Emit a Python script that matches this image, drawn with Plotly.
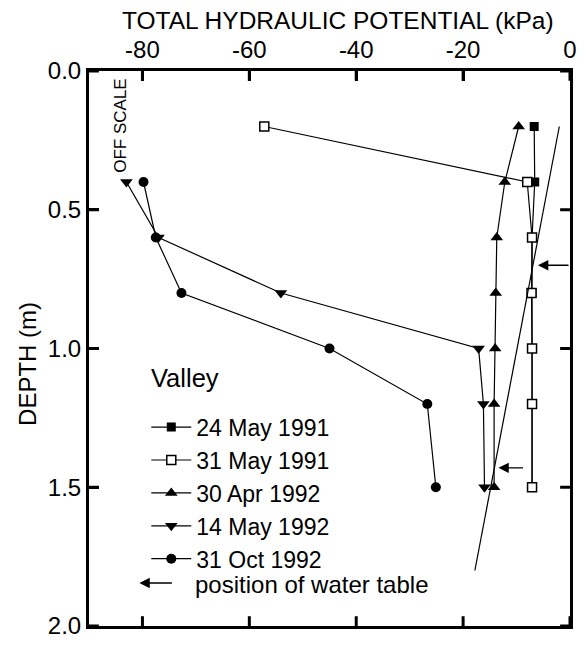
import plotly.graph_objects as go

# ---------------- data ----------------
depth = [0.2, 0.4, 0.6, 0.8, 1.0, 1.2, 1.5]
depth_lower = [0.4, 0.6, 0.8, 1.0, 1.2, 1.5]

may24_1991 = [-6.7, -6.6, -7.1, -7.1, -7.1, -7.1, -7.1]
may31_1991 = [-57.2, -8.0, -7.1, -7.2, -7.1, -7.1, -7.1]
apr30_1992 = [-9.6, -12.2, -13.7, -13.9, -14.0, -14.2, -14.2]
may14_1992 = [-83.0, -77.0, -54.1, -17.1, -16.2, -16.0]
oct31_1992 = [-79.8, -77.5, -72.7, -45.0, -26.7, -25.1]

series_names = ["24 May 1991", "31 May 1991", "30 Apr 1992", "14 May 1992", "31 Oct 1992"]

# water-table reference line (potential vs depth)
wt_line_x = [-2.0, -17.8]
wt_line_y = [0.2, 1.8]

# water-table arrows (depth, tail potential, tip potential)
wt_arrow_depth = [0.70, 1.43]
wt_arrow_tail = [0.0, -8.5]
wt_arrow_tip = [-6.0, -13.4]

x_ticks = [-80, -60, -40, -20, 0]
y_ticks = [0.0, 0.5, 1.0, 1.5, 2.0]

# ---------------- layout geometry ----------------
# the page body adds an 8px margin on every side; size the figure so the page
# fits the 586x648 window exactly
OFF = 8
W, H = 586 - 2 * OFF, 648 - 2 * OFF
# plot area in window pixels
SL, SR, ST, SB = 89, 576, 71, 639
L, R, T, B = SL - OFF, SR - OFF, ST - OFF, SB - OFF
PW, PH = SR - SL, SB - ST
TICKLEN = 10
FONT = "Liberation Sans, Arial, Helvetica, sans-serif"


def px(x_screen):
    return (x_screen - SL) / PW


def py(y_screen):
    return (SB - y_screen) / PH


fig = go.Figure()

line_style = dict(color="black", width=1.2)

fig.add_trace(go.Scatter(
    x=may24_1991, y=depth, name=series_names[0], mode="lines+markers",
    line=line_style,
    marker=dict(symbol="square", size=9, color="black"),
))
fig.add_trace(go.Scatter(
    x=may31_1991, y=depth, name=series_names[1], mode="lines+markers",
    line=line_style,
    marker=dict(symbol="square", size=9, color="white", line=dict(color="black", width=1.5)),
))
fig.add_trace(go.Scatter(
    x=apr30_1992, y=depth, name=series_names[2], mode="lines+markers",
    line=line_style,
    marker=dict(symbol="triangle-up", size=11, color="black"),
))
fig.add_trace(go.Scatter(
    x=may14_1992, y=depth_lower, name=series_names[3], mode="lines+markers",
    line=line_style,
    marker=dict(symbol="triangle-down", size=11, color="black"),
))
fig.add_trace(go.Scatter(
    x=oct31_1992, y=depth_lower, name=series_names[4], mode="lines+markers",
    line=line_style,
    marker=dict(symbol="circle", size=10, color="black"),
))
fig.add_trace(go.Scatter(
    x=wt_line_x, y=wt_line_y, mode="lines", showlegend=False,
    line=dict(color="black", width=1.2), hoverinfo="skip",
))

annotations = []
for d, tail, tip in zip(wt_arrow_depth, wt_arrow_tail, wt_arrow_tip):
    annotations.append(dict(
        x=tip, y=d, ax=tail, ay=d, xref="x", yref="y", axref="x", ayref="y",
        text="", showarrow=True, arrowhead=2, arrowsize=1.6, arrowwidth=1.3,
        arrowcolor="black",
    ))

# axis titles / labels
annotations.append(dict(
    x=px(341.5), y=py(19.5), xref="paper", yref="paper", showarrow=False,
    text="TOTAL HYDRAULIC POTENTIAL (kPa)", font=dict(family=FONT, size=24.5, color="black"),
    xanchor="center", yanchor="middle", borderpad=0,
))
annotations.append(dict(
    x=px(26), y=py(371), xref="paper", yref="paper", showarrow=False,
    text="DEPTH (m)", textangle=-90, font=dict(family=FONT, size=24, color="black"),
    xanchor="center", yanchor="middle",
))
annotations.append(dict(
    x=px(121), y=py(127.5), xref="paper", yref="paper", showarrow=False,
    text="OFF SCALE", textangle=-90, font=dict(family=FONT, size=17, color="black"),
    xanchor="center", yanchor="middle",
))
annotations.append(dict(
    x=px(150), y=py(385), xref="paper", yref="paper", showarrow=False,
    text="Valley", font=dict(family=FONT, size=25.5, color="black"),
    xanchor="left", yanchor="middle",
))
# legend entry for water-table arrow
annotations.append(dict(
    x=px(140), y=py(595), ax=34, ay=0, xref="paper", yref="paper",
    axref="pixel", ayref="pixel", text="", showarrow=True, arrowhead=2,
    arrowsize=1.6, arrowwidth=1.3, arrowcolor="black",
))
annotations.append(dict(
    x=px(194), y=py(597), xref="paper", yref="paper", showarrow=False,
    text="position of water table", font=dict(family=FONT, size=24, color="black"),
    xanchor="left", yanchor="middle",
))

# inward tick marks on all four sides, placed through the axes' own scales
shapes = []
tick_line = dict(color="black", width=3)
for v in x_ticks:
    shapes.append(dict(type="line", xref="x", yref="y domain", x0=v, x1=v,
                       y0=1, y1=1 - TICKLEN / PH, line=tick_line, layer="above"))
    shapes.append(dict(type="line", xref="x", yref="y domain", x0=v, x1=v,
                       y0=0, y1=TICKLEN / PH, line=tick_line, layer="above"))
for v in y_ticks:
    shapes.append(dict(type="line", xref="x domain", yref="y", x0=0, x1=TICKLEN / PW,
                       y0=v, y1=v, line=tick_line, layer="above"))
    shapes.append(dict(type="line", xref="x domain", yref="y", x0=1, x1=1 - TICKLEN / PW,
                       y0=v, y1=v, line=tick_line, layer="above"))

axis_common = dict(
    showline=True, linecolor="black", linewidth=3, mirror=True,
    ticks="inside", ticklen=TICKLEN, tickwidth=3, tickcolor="black",
    showgrid=False, zeroline=False, ticklabeloverflow="allow",
    tickfont=dict(family=FONT, size=24, color="black"),
)

fig.update_layout(
    width=W, height=H,
    margin=dict(l=L, r=W - R, t=T, b=H - B, pad=0),
    paper_bgcolor="white", plot_bgcolor="white",
    font=dict(family=FONT, color="black"),
    xaxis=dict(range=[-90, 0], side="top", tickvals=x_ticks,
               ticktext=[str(v) for v in x_ticks], **axis_common),
    yaxis=dict(range=[2, 0], tickvals=y_ticks,
               ticktext=[f"{v:.1f}" for v in y_ticks], **axis_common),
    showlegend=True,
    legend=dict(
        x=px(147), y=py(413.5), xanchor="left", yanchor="top",
        bgcolor="rgba(0,0,0,0)", borderwidth=0,
        font=dict(family=FONT, size=23, color="black"),
        itemwidth=40, tracegroupgap=0,
    ),
    annotations=annotations,
    shapes=shapes,
)

fig.write_html("out.html", config={"displayModeBar": False})
